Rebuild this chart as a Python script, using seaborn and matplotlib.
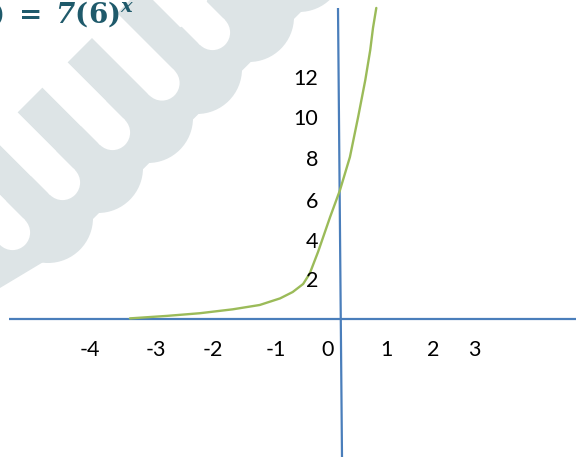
import matplotlib
matplotlib.use("Agg")
import matplotlib.pyplot as plt
import seaborn as sns
import pandas as pd
from matplotlib.patches import Polygon, Circle

# ---- data (math units) ----
curve_x = [-3.82, -3.15, -2.55, -1.95, -1.46, -1.09, -0.86, -0.67, -0.55, -0.40,
           -0.18, 0.00, 0.18, 0.33, 0.46, 0.55, 0.60, 0.66]
curve_y = [0.03, 0.15, 0.28, 0.47, 0.68, 1.00, 1.31, 1.70, 2.21, 3.25,
           4.95, 6.26, 7.86, 9.81, 11.60, 13.06, 14.13, 15.10]

x_tick_labels = ["-4", "-3", "-2", "-1", "0", "1", "2", "3"]
x_tick_pos = [-4.55, -3.35, -2.31, -1.16, -0.22, 0.84, 1.69, 2.44]
y_tick_labels = ["12", "10", "8", "6", "4", "2"]
y_tick_pos = [11.38, 9.44, 7.45, 5.41, 3.47, 1.53]

title_text = r"$\mathbfit{f}\mathbf{(}\mathbfit{x}\mathbf{)\ =\ }\mathbfit{7}\mathbf{(6)}^{\mathbfit{x}}$"

sns.set_theme(style="white")
plt.rcParams["font.family"] = ["Lato", "DejaVu Sans"]
plt.rcParams["mathtext.fontset"] = "dejavuserif"

W, H, DPI = 576, 457, 100
fig = plt.figure(figsize=(W / DPI, H / DPI), dpi=DPI)

# ---- watermark layer (pixel coordinates, decoration) ----
bg = fig.add_axes([0, 0, 1, 1], zorder=0)
bg.set_xlim(0, W)
bg.set_ylim(H, 0)
bg.axis("off")
wm = "#dde4e6"


def sd(s, d):
    return ((s - d) / 2, (s + d) / 2)


fingers = [-232, -128, -30, 70, 170]
gaps = [-282, -180, -79, 20, 120, 220]
for c in fingers:
    s0, s1 = 130, 262
    pts = [sd(s0, c - 25), sd(s0, c + 25), sd(s1, c + 25), sd(s1, c - 25)]
    bg.add_patch(Polygon(pts, closed=True, color=wm, lw=0))
spine = [(0, 288), (50, 258), (90, 222), (313, 0), (245, 0), (0, 245)]
bg.add_patch(Polygon(spine, closed=True, color=wm, lw=0))
for c in [-332] + fingers:
    bg.add_patch(Circle(sd(266, c), 45, color=wm, lw=0))
for g in gaps:
    s0, s1 = 125, 245
    pts = [sd(s0, g - 25), sd(s0, g + 25), sd(s1, g + 25), sd(s1, g - 25)]
    bg.add_patch(Polygon(pts, closed=True, color="white", lw=0))
    bg.add_patch(Circle(sd(245, g), 17.6, color="white", lw=0))

# ---- main axes in math units ----
ax = fig.add_axes([0, 0, 1, 1], zorder=1)
ax.patch.set_alpha(0)
px_x0, px_y0, sx, sy = 340, 319, 55.0, 20.6
ax.set_xlim((0 - px_x0) / sx, (W - px_x0) / sx)
ax.set_ylim((px_y0 - H) / sy, px_y0 / sy)
ax.axis("off")

axis_col = "#4a7ebb"
ax.plot([(9 - px_x0) / sx, (W - px_x0) / sx], [0, 0], color=axis_col, lw=1.6, solid_capstyle="butt")
ax.plot([(338 - px_x0) / sx, (342 - px_x0) / sx], [(px_y0 - 8) / sy, (px_y0 - 457) / sy],
        color=axis_col, lw=1.6, solid_capstyle="butt")

df = pd.DataFrame({"x": curve_x, "y": curve_y})
sns.lineplot(data=df, x="x", y="y", ax=ax, color="#9bbb59", lw=1.7, sort=False)
ax.set_xlabel("")
ax.set_ylabel("")

for lab, xp in zip(x_tick_labels, x_tick_pos):
    ax.text(xp, -1.80, lab, ha="center", va="baseline", fontsize=15.5, color="black")
for lab, yp in zip(y_tick_labels, y_tick_pos):
    ax.text(-0.40, yp, lab, ha="right", va="baseline", fontsize=15.5, color="black")

fig.text(135 / W, 1 - 23 / H, title_text, ha="right", va="baseline", fontsize=20, color="#1f5a6b")

fig.savefig("out.png", dpi=DPI)
